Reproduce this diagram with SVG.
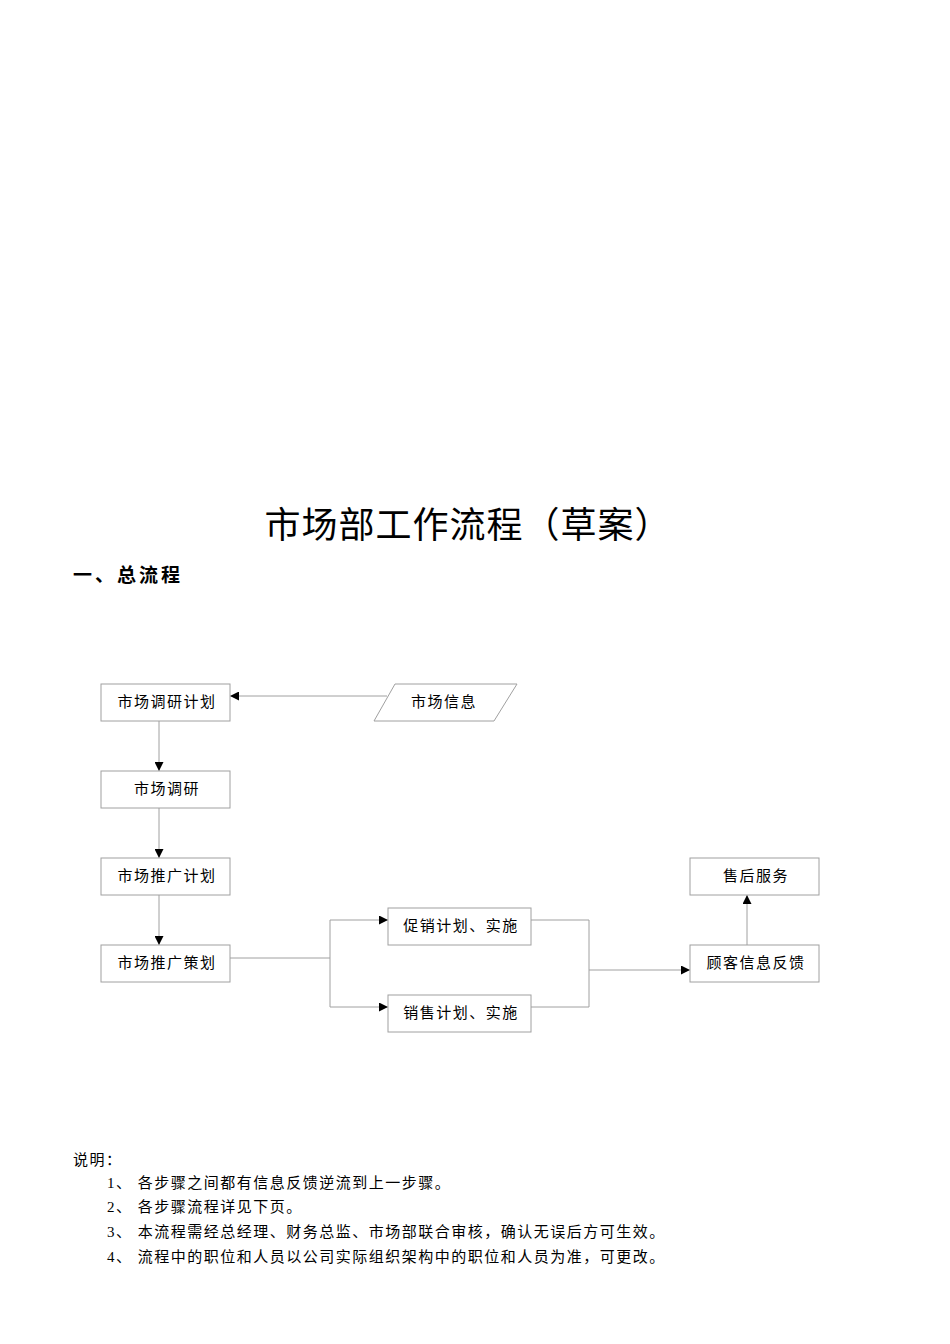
<svg xmlns="http://www.w3.org/2000/svg" width="950" height="1344" viewBox="0 0 950 1344">
<defs>
<marker id="ah" viewBox="0 0 10 10" refX="10" refY="5" markerWidth="9" markerHeight="9" markerUnits="userSpaceOnUse" orient="auto"><path d="M0,0L10,5L0,10z" fill="#000"/></marker>
<style>
text{font-family:"Liberation Serif","Noto Sans CJK SC",serif;fill:#000}
.box{fill:#fff;stroke:#a0a0a0;stroke-width:1}
.lbl{font-size:15px;text-anchor:middle;letter-spacing:1.5px}
.ln{fill:none;stroke:#a0a0a0;stroke-width:1}
.note{font-size:15px;letter-spacing:1.5px}
</style>
</defs>
<rect width="950" height="1344" fill="#fff"/>
<text x="468" y="538" font-size="36" text-anchor="middle" letter-spacing="1">市场部工作流程（草案）</text>
<text x="73" y="582" font-size="19" font-weight="bold" letter-spacing="3">一、总流程</text>
<g id="connectors">
<path class="ln" d="M387,696H230" marker-end="url(#ah)"/>
<path class="ln" d="M159,721V771" marker-end="url(#ah)"/>
<path class="ln" d="M159,808V858" marker-end="url(#ah)"/>
<path class="ln" d="M159,895V945" marker-end="url(#ah)"/>
<path class="ln" d="M230,958H330"/>
<path class="ln" d="M330,920V1007"/>
<path class="ln" d="M330,920H388" marker-end="url(#ah)"/>
<path class="ln" d="M330,1007H388" marker-end="url(#ah)"/>
<path class="ln" d="M531,920H589V1007H531"/>
<path class="ln" d="M589,970H690" marker-end="url(#ah)"/>
<path class="ln" d="M747,945V895" marker-end="url(#ah)"/>
</g>
<g id="n1"><rect class="box" x="101" y="684" width="129" height="37"/><text class="lbl" x="167" y="707">市场调研计划</text></g>
<g id="n2"><polygon class="box" points="395,684 517,684 494,721 374,721"/><text class="lbl" x="444" y="707">市场信息</text></g>
<g id="n3"><rect class="box" x="101" y="771" width="129" height="37"/><text class="lbl" x="167" y="794">市场调研</text></g>
<g id="n4"><rect class="box" x="101" y="858" width="129" height="37"/><text class="lbl" x="167" y="881">市场推广计划</text></g>
<g id="n5"><rect class="box" x="101" y="945" width="129" height="37"/><text class="lbl" x="167" y="968">市场推广策划</text></g>
<g id="n6"><rect class="box" x="388" y="908" width="143" height="37"/><text class="lbl" x="461" y="931">促销计划、实施</text></g>
<g id="n7"><rect class="box" x="388" y="995" width="143" height="37"/><text class="lbl" x="461" y="1018">销售计划、实施</text></g>
<g id="n8"><rect class="box" x="690" y="945" width="129" height="37"/><text class="lbl" x="756" y="968">顾客信息反馈</text></g>
<g id="n9"><rect class="box" x="690" y="858" width="129" height="37"/><text class="lbl" x="756" y="881">售后服务</text></g>
<text class="note" x="73" y="1165">说明：</text>
<text class="note" x="107" y="1188">1、 各步骤之间都有信息反馈逆流到上一步骤。</text>
<text class="note" x="107" y="1212">2、 各步骤流程详见下页。</text>
<text class="note" x="107" y="1237">3、 本流程需经总经理、财务总监、市场部联合审核，确认无误后方可生效。</text>
<text class="note" x="107" y="1262">4、 流程中的职位和人员以公司实际组织架构中的职位和人员为准，可更改。</text>
</svg>
